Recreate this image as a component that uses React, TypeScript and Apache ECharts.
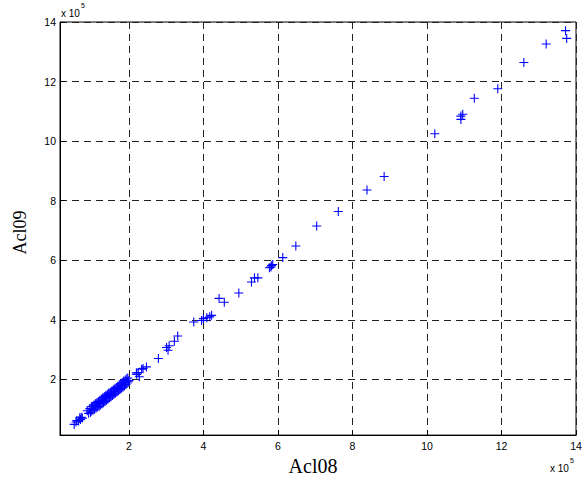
import React, { useEffect, useRef } from "react";
import * as echarts from "echarts";

// Values in units of 10^5
const acl08: number[] = [
  0.53, 0.58, 0.60, 0.65, 0.68, 0.70, 0.72, 0.75,
  0.88, 0.92, 0.95, 0.97, 0.99, 1.00, 1.02, 1.04, 1.06, 1.08, 1.10, 1.12,
  1.14, 1.16, 1.18, 1.20, 1.22, 1.24, 1.26, 1.28, 1.30, 1.32, 1.34, 1.36,
  1.38, 1.40, 1.42, 1.44, 1.46, 1.48, 1.50, 1.52, 1.54, 1.56, 1.58, 1.60,
  1.62, 1.64, 1.66, 1.68, 1.70, 1.72, 1.74, 1.76, 1.78, 1.80, 1.82, 1.84,
  1.86, 1.88, 1.90, 1.92, 1.94, 1.95, 1.97, 1.98, 2.00, 1.10, 1.30, 1.50,
  1.70, 1.90, 1.20, 1.40, 1.60, 1.80,
  2.20, 2.25, 2.21, 2.28, 2.34, 2.38, 2.47, 2.79, 3.01, 3.05, 3.08, 3.22,
  3.31, 3.74, 3.95, 4.00, 4.09, 4.17, 4.22, 4.42, 4.56, 4.95, 5.29, 5.37,
  5.46, 5.77, 5.81, 5.86, 5.83, 6.13, 6.48, 7.04, 7.62, 8.39, 8.85, 10.21,
  10.91, 10.91, 10.96, 11.27, 11.90, 12.60, 13.20, 13.72, 13.75,
];

const acl09: number[] = [
  0.49, 0.57, 0.62, 0.60, 0.71, 0.65, 0.73, 0.70,
  0.95, 0.86, 1.02, 0.90, 1.08, 0.94, 1.10, 0.97, 1.14, 1.00, 1.18, 1.04,
  1.22, 1.07, 1.26, 1.10, 1.30, 1.14, 1.34, 1.18, 1.38, 1.22, 1.42, 1.26,
  1.46, 1.30, 1.50, 1.34, 1.54, 1.38, 1.57, 1.42, 1.61, 1.46, 1.65, 1.50,
  1.69, 1.54, 1.73, 1.58, 1.77, 1.62, 1.81, 1.66, 1.85, 1.70, 1.89, 1.74,
  1.95, 1.78, 1.98, 1.83, 2.02, 1.88, 2.05, 1.92, 1.96, 1.12, 1.30, 1.50,
  1.71, 1.91, 1.19, 1.41, 1.60, 1.79,
  2.22, 2.23, 2.17, 2.09, 2.34, 2.37, 2.42, 2.70, 3.07, 2.98, 3.13, 3.28,
  3.46, 3.93, 3.98, 4.04, 4.07, 4.10, 4.15, 4.72, 4.59, 4.90, 5.27, 5.41,
  5.41, 5.75, 5.77, 5.86, 5.82, 6.09, 6.48, 7.15, 7.64, 8.36, 8.81, 10.25,
  10.73, 10.84, 10.90, 11.44, 11.76, 12.64, 13.26, 13.71, 13.45,
];

const tickValues: number[] = [2, 4, 6, 8, 10, 12, 14];
const xName = "Acl08";
const yName = "Acl09";

const PLUS =
  "path://M0,4.4 L10,4.4 L10,5.6 L0,5.6 Z M4.4,0 L5.6,0 L5.6,10 L4.4,10 Z";

export default function App() {
  const ref = useRef<HTMLDivElement>(null);

  useEffect(() => {
    document.body.style.margin = "0";
    if (!ref.current) return;
    const chart = echarts.init(ref.current, undefined, { renderer: "svg" });
    const data = acl08.map((x, i) => [x, acl09[i]]);
    const font = "Liberation Sans, Arial, Helvetica, sans-serif";
    const axisCommon = {
      type: "value" as const,
      max: 14,
      axisLine: { show: true, onZero: false, lineStyle: { color: "#000", width: 1 } },
      axisTick: {
        show: true,
        inside: true,
        length: 5,
        customValues: tickValues,
        lineStyle: { color: "#000" },
      },
      axisLabel: {
        customValues: tickValues,
        color: "#000",
        fontSize: 10.5,
        fontFamily: font,
      },
      splitLine: {
        show: true,
        lineStyle: { color: "#222", type: [7, 5], width: 1 },
      },
      nameLocation: "middle" as const,
      nameTextStyle: {
        fontFamily: "Liberation Serif, Times New Roman, serif",
        color: "#000",
      },
    };
    chart.setOption({
      animation: false,
      backgroundColor: "#fff",
      grid: {
        left: 60,
        right: 10,
        top: 22,
        bottom: 44,
        show: true,
        borderColor: "#000",
        borderWidth: 1,
        backgroundColor: "#fff",
      },
      xAxis: {
        ...axisCommon,
        min: 0.15,
        name: xName,
        nameGap: 19,
        axisLabel: { ...axisCommon.axisLabel, margin: 5 },
        nameTextStyle: { ...axisCommon.nameTextStyle, fontSize: 20, padding: [0, 0, 0, -10] },
      },
      yAxis: {
        ...axisCommon,
        min: 0.13,
        name: yName,
        nameGap: 31,
        axisLabel: { ...axisCommon.axisLabel, margin: 4 },
        nameTextStyle: { ...axisCommon.nameTextStyle, fontSize: 18, padding: [0, 0, 0, -8] },
      },
      graphic: [
        { type: "text", left: 61, top: 8, style: { text: "x 10", fontSize: 10, fontFamily: font, fill: "#000" } },
        { type: "text", left: 81, top: 2, style: { text: "5", fontSize: 7, fontFamily: font, fill: "#000" } },
        { type: "text", left: 550, top: 463, style: { text: "x 10", fontSize: 10, fontFamily: font, fill: "#000" } },
        { type: "text", left: 570, top: 457, style: { text: "5", fontSize: 7, fontFamily: font, fill: "#000" } },
      ],
      series: [
        {
          type: "scatter",
          data,
          symbol: PLUS,
          symbolSize: 9,
          itemStyle: { color: "#0000ff", opacity: 1 },
        },
      ],
    });
    return () => chart.dispose();
  }, []);

  return <div ref={ref} style={{ width: 586, height: 481 }} />;
}
